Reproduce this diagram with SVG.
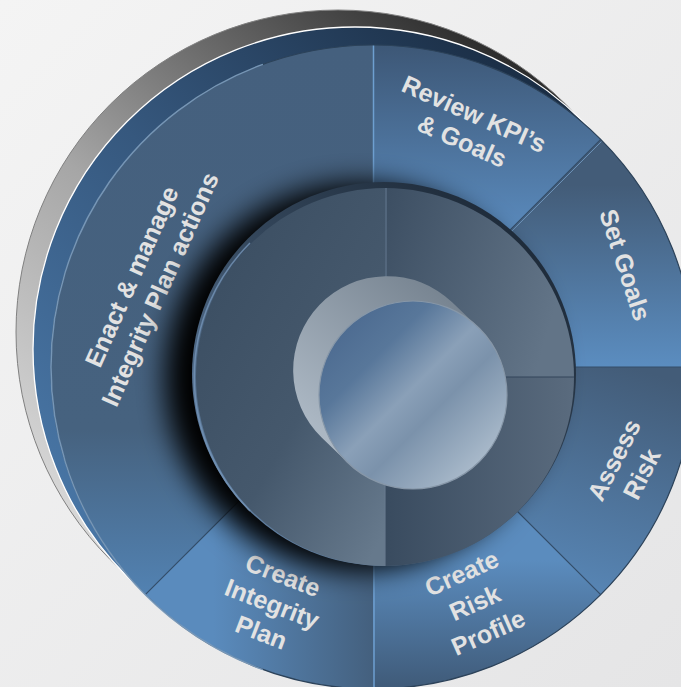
<svg xmlns="http://www.w3.org/2000/svg" width="681" height="687" viewBox="0 0 681 687">
<defs>
<style>
.lbl{font-family:"Liberation Sans",Arial,Helvetica,sans-serif;font-weight:bold;font-size:25px;fill:#e2e2e2;text-anchor:middle}
.divd{stroke:#344e6a;stroke-width:1.2;fill:none}
.divl{stroke:#6e9fd0;stroke-width:1.5;fill:none}
</style>
<linearGradient id="bg" x1="0" y1="0" x2="1" y2="1"><stop offset="0" stop-color="#f4f4f4"/><stop offset="1" stop-color="#e5e5e6"/></linearGradient>
<linearGradient id="greyRim" x1="0.1" y1="0.85" x2="0.75" y2="0.05"><stop offset="0" stop-color="#dcdcdc"/><stop offset="0.45" stop-color="#a6a6a6"/><stop offset="1" stop-color="#2a2a2a"/></linearGradient>
<linearGradient id="blueBand" x1="0" y1="0.8" x2="0.8" y2="0.1"><stop offset="0" stop-color="#4b7aab"/><stop offset="0.5" stop-color="#36587e"/><stop offset="1" stop-color="#1a2d44"/></linearGradient>
<linearGradient id="gReview" x1="0" y1="0" x2="0" y2="1"><stop offset="0" stop-color="#3d5776"/><stop offset="0.6" stop-color="#5b8cbf"/></linearGradient>
<linearGradient id="gSet" x1="0" y1="0" x2="0" y2="1"><stop offset="0.2" stop-color="#435c78"/><stop offset="1" stop-color="#5b8dc0"/></linearGradient>
<linearGradient id="gAssess" x1="0.8" y1="0" x2="0.35" y2="1"><stop offset="0" stop-color="#435c78"/><stop offset="1" stop-color="#5a8bbd"/></linearGradient>
<linearGradient id="gProfile" x1="0" y1="0.6" x2="0" y2="1"><stop offset="0" stop-color="#5b8cbe"/><stop offset="1" stop-color="#3f5a78"/></linearGradient>
<linearGradient id="gIntegrity" x1="0.3" y1="0" x2="1" y2="0"><stop offset="0" stop-color="#5a8bbd"/><stop offset="1" stop-color="#44607e"/></linearGradient>
<linearGradient id="gEnact" x1="0" y1="0" x2="0" y2="1"><stop offset="0" stop-color="#45607e"/><stop offset="0.7" stop-color="#46627f"/><stop offset="1" stop-color="#5282b2"/></linearGradient>
<linearGradient id="gSide" x1="0" y1="0.8" x2="0.8" y2="0"><stop offset="0" stop-color="#6585a8"/><stop offset="0.5" stop-color="#34475c"/><stop offset="1" stop-color="#1c2836"/></linearGradient>
<linearGradient id="gQTR" x1="0" y1="0" x2="1" y2="0.3"><stop offset="0" stop-color="#3c4e62"/><stop offset="1" stop-color="#627487"/></linearGradient>
<linearGradient id="gQBR" x1="0" y1="0" x2="1" y2="0"><stop offset="0" stop-color="#394b5f"/><stop offset="1" stop-color="#5a6b7e"/></linearGradient>
<linearGradient id="gQL" x1="0.2" y1="0.2" x2="0.9" y2="1"><stop offset="0" stop-color="#3d5064"/><stop offset="0.5" stop-color="#45586c"/><stop offset="1" stop-color="#66798c"/></linearGradient>
<linearGradient id="gHull" x1="0.7" y1="0" x2="0.1" y2="0.7"><stop offset="0" stop-color="#74818e"/><stop offset="1" stop-color="#abb7c3"/></linearGradient>
<linearGradient id="gHub" x1="0" y1="0" x2="1" y2="1"><stop offset="0" stop-color="#44628a"/><stop offset="0.3" stop-color="#58779a"/><stop offset="0.48" stop-color="#8aa0b8"/><stop offset="0.6" stop-color="#7b92ab"/><stop offset="0.85" stop-color="#a7b8c9"/><stop offset="1" stop-color="#9aacbf"/></linearGradient>
<clipPath id="discClip"><circle cx="373" cy="367" r="322"/></clipPath>
<filter id="blur" x="-30%" y="-30%" width="160%" height="160%"><feGaussianBlur stdDeviation="14"/></filter>
</defs>
<rect width="681" height="687" fill="url(#bg)"/>
<g id="base">
<circle cx="338" cy="332" r="322" fill="url(#greyRim)" stroke="#808080" stroke-width="1"/>
<circle cx="355" cy="349" r="322" fill="url(#blueBand)" stroke="#ffffff" stroke-width="1.3"/>
</g>
<g id="seg-review"><path d="M373,367 L373,45 A322,322 0 0 1 600.69,139.31 Z" fill="url(#gReview)"/>
<text class="lbl" transform="translate(468,128) rotate(24)"><tspan x="0" y="-6.5">Review KPI’s</tspan><tspan x="0" y="23">&amp; Goals</tspan></text></g>
<g id="seg-setgoals"><path d="M373,367 L600.69,139.31 A322,322 0 0 1 695,367 Z" fill="url(#gSet)"/>
<text class="lbl" transform="translate(625,265) rotate(72)"><tspan x="0" y="8.5">Set Goals</tspan></text></g>
<g id="seg-assess"><path d="M373,367 L695,367 A322,322 0 0 1 600.69,594.69 Z" fill="url(#gAssess)"/>
<text class="lbl" transform="translate(628,467) rotate(-63)"><tspan x="0" y="-7">Assess</tspan><tspan x="0" y="24">Risk</tspan></text></g>
<g id="seg-profile"><path d="M373,367 L600.69,594.69 A322,322 0 0 1 373,689 Z" fill="url(#gProfile)"/>
<text class="lbl" transform="translate(475,603) rotate(-24)"><tspan x="0" y="-24">Create</tspan><tspan x="0" y="8.5">Risk</tspan><tspan x="0" y="41">Profile</tspan></text></g>
<g id="seg-integrity"><path d="M373,367 L373,689 A322,322 0 0 1 145.31,594.69 Z" fill="url(#gIntegrity)"/>
<text class="lbl" transform="translate(272,604) rotate(21)"><tspan x="0" y="-22">Create</tspan><tspan x="0" y="8.5">Integrity</tspan><tspan x="0" y="39">Plan</tspan></text></g>
<g id="seg-enact"><path d="M373,367 L145.31,594.69 A322,322 0 0 1 373,45 Z" fill="url(#gEnact)"/>
<text class="lbl" transform="translate(146,283) rotate(-66)"><tspan x="0" y="-7">Enact &amp; manage</tspan><tspan x="0" y="24">Integrity Plan actions</tspan></text></g>
<g id="dividers">
<line class="divl" x1="373.5" y1="45" x2="373.5" y2="367"/>
<line class="divd" x1="373" y1="367" x2="600.69" y2="139.31"/>
<line stroke="#6a8fb5" stroke-width="1" x1="374.5" y1="368.5" x2="601.5" y2="141.5"/>
<line class="divd" x1="373" y1="367" x2="695" y2="367"/>
<line class="divd" x1="373" y1="367" x2="600.69" y2="594.69"/>
<line class="divl" x1="374" y1="367" x2="374" y2="689"/>
<line class="divd" x1="373" y1="367" x2="145.31" y2="594.69"/>
<circle cx="373" cy="367" r="322" fill="none" stroke="#2c4259" stroke-width="1.2"/>
<path d="M262.9,669.6 A322,322 0 0 1 262.9,64.4" fill="none" stroke="#8fb2d4" stroke-width="1.5" opacity="0.75"/>
</g>
<g id="shadow" clip-path="url(#discClip)">
<circle cx="359" cy="377" r="194" fill="#000" filter="url(#blur)"/>
</g>
<g id="inner-ring">
<circle cx="384" cy="374" r="192" fill="url(#gSide)"/>
<path d="M385,377 L385,188 A189,189 0 0 1 574,377 Z" fill="url(#gQTR)"/>
<path d="M385,377 L574,377 A189,189 0 0 1 385,566 Z" fill="url(#gQBR)"/>
<path d="M385,377 L385,566 A189,189 0 0 1 385,188 Z" fill="url(#gQL)"/>
<line x1="386" y1="188" x2="386" y2="377" stroke="#5a6e85" stroke-width="1.5"/>
<line x1="385" y1="377" x2="574" y2="377" stroke="#33445a" stroke-width="1.2"/>
<line x1="385" y1="377" x2="385" y2="566" stroke="#66788c" stroke-width="1.2"/>
<path d="M250,243 A189,189 0 0 0 250,511" fill="none" stroke="#7494b6" stroke-width="1.5" opacity="0.8"/>
</g>
<g id="hub">
<path d="M452.15,302.24 A94,94 0 0 0 321.85,437.76 L347.85,462.76 A94,94 0 0 0 478.15,327.24 Z" fill="url(#gHull)"/>
<circle cx="413" cy="395" r="94" fill="url(#gHub)" stroke="#8797a8" stroke-width="1.2"/>
</g>
</svg>
